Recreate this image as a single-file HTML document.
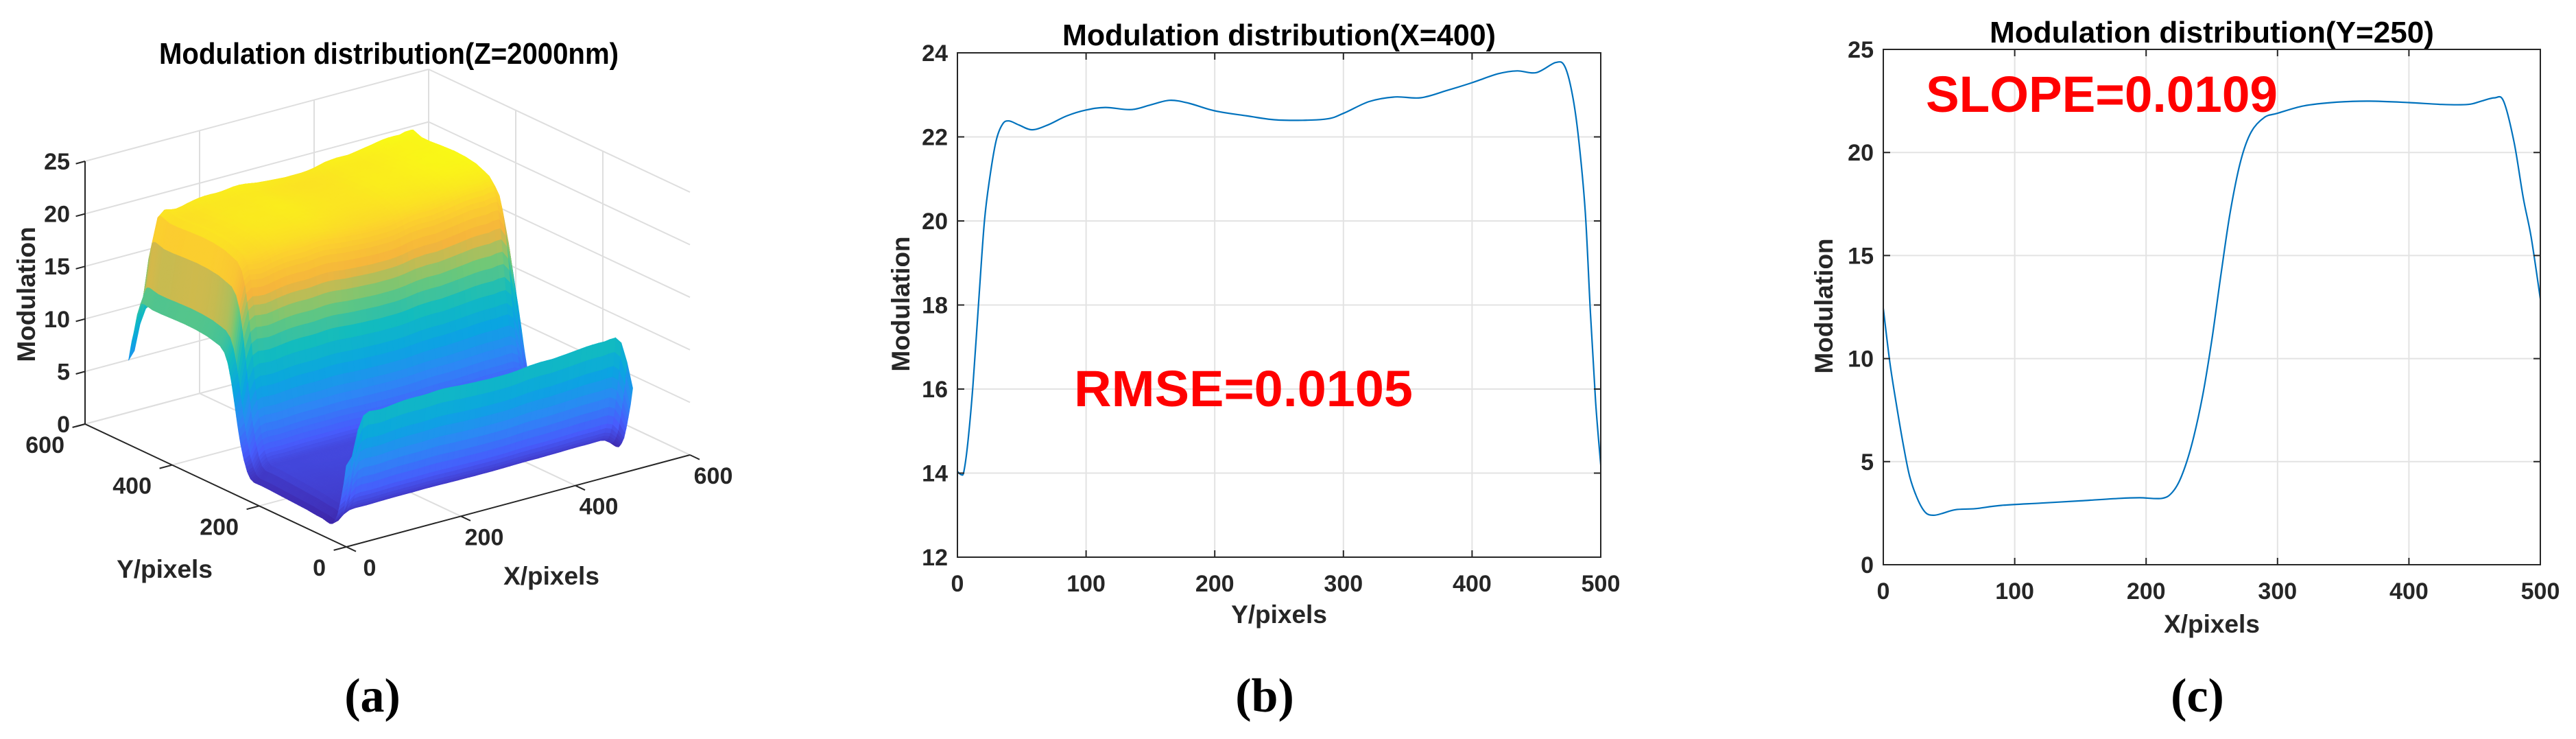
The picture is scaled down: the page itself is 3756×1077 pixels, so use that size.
<!DOCTYPE html>
<html><head><meta charset="utf-8">
<style>
html,body{margin:0;padding:0;background:#fff;}
svg{display:block;}
</style></head>
<body>
<svg id="fig" xmlns="http://www.w3.org/2000/svg" width="3756" height="1077" viewBox="0 0 3756 1077" font-family="Liberation Sans, Arial, sans-serif">
<rect x="0" y="0" width="3756" height="1077" fill="#fff"/>
<g id="panelA"></g>
<g id="panelB"></g>
<g id="panelC"></g>
<text x="543" y="1037" text-anchor="middle" style="font-family:'Liberation Serif',serif" font-size="70" font-weight="bold" fill="#000">(a)</text>
<text x="1844" y="1037" text-anchor="middle" style="font-family:'Liberation Serif',serif" font-size="70" font-weight="bold" fill="#000">(b)</text>
<text x="3204" y="1037" text-anchor="middle" style="font-family:'Liberation Serif',serif" font-size="70" font-weight="bold" fill="#000">(c)</text>
</svg>
<script>
// ---- data: profile along Y at X=400 (panel b) ----
var bPos = [0,3,5,8,12,17,21,25,30,35,40,48,58,70,85,100,115,135,150,165,180,200,225,250,285,300,320,340,360,380,400,420,435,450,465,472,478,483,488,492,496,500];
var bVal = [14.04,13.96,14.04,14.7,16.06,18.3,20.0,21.0,21.9,22.3,22.38,22.28,22.17,22.28,22.5,22.64,22.7,22.65,22.76,22.87,22.8,22.62,22.5,22.4,22.42,22.56,22.84,22.95,22.93,23.1,23.29,23.5,23.57,23.53,23.77,23.68,23.0,21.9,20.2,17.8,15.7,14.2];
// ---- data: profile along X at Y=250 (panel c) ----
var cPos = [0,5,10,15,20,26,32,38,45,55,70,90,120,150,180,195,212,220,227,235,243,250,257,264,272,280,290,300,320,345,370,400,425,445,455,465,472,480,487,493,500];
var cVal = [12.43,9.8,7.75,5.9,4.3,3.2,2.54,2.4,2.49,2.67,2.72,2.88,2.99,3.1,3.22,3.25,3.22,3.52,4.3,5.9,8.2,10.9,14.1,17.1,19.6,21.0,21.7,21.9,22.26,22.44,22.49,22.42,22.33,22.33,22.49,22.65,22.49,20.5,17.8,15.9,12.9];
var xTicks2D = [0,100,200,300,400,500];
var bYTicks = [12,14,16,18,20,22,24];
var cYTicks = [0,5,10,15,20,25];
var zTicks3D = [0,5,10,15,20,25];
var xyTicks3D = [0,200,400,600];

var NS = "http://www.w3.org/2000/svg";
function mk(tag, attrs, parent){ var e=document.createElementNS(NS,tag); for(var k in attrs) e.setAttribute(k,attrs[k]); if(parent) parent.appendChild(e); return e; }
function interp(pos, val, x){
  if(x<=pos[0]) return val[0];
  for(var i=1;i<pos.length;i++){ if(x<=pos[i]){ var t=(x-pos[i-1])/(pos[i]-pos[i-1]); return val[i-1]+t*(val[i]-val[i-1]); } }
  return val[val.length-1];
}
function smoothPath(pts){
  var d="M"+pts[0][0].toFixed(1)+","+pts[0][1].toFixed(1);
  for(var i=0;i<pts.length-1;i++){
    var p0=pts[Math.max(0,i-1)],p1=pts[i],p2=pts[i+1],p3=pts[Math.min(pts.length-1,i+2)];
    var c1x=p1[0]+(p2[0]-p0[0])/6,c1y=p1[1]+(p2[1]-p0[1])/6,c2x=p2[0]-(p3[0]-p1[0])/6,c2y=p2[1]-(p3[1]-p1[1])/6;
    d+="C"+c1x.toFixed(1)+","+c1y.toFixed(1)+" "+c2x.toFixed(1)+","+c2y.toFixed(1)+" "+p2[0].toFixed(1)+","+p2[1].toFixed(1);
  }
  return d;
}

// ---------- 2D panel ----------
function panel2D(g, cfg){
  var L=cfg.l,R=cfg.r,T=cfg.t,B=cfg.b;
  function sx(v){return L+(v-cfg.xmin)/(cfg.xmax-cfg.xmin)*(R-L);}
  function sy(v){return B-(v-cfg.ymin)/(cfg.ymax-cfg.ymin)*(B-T);}
  xTicks2D.forEach(function(t){
    var ln=mk("line",{x1:sx(t),x2:sx(t),y1:T,y2:B,stroke:"#e3e3e3","stroke-width":2},g);
    
    
  });
  cfg.yticks.forEach(function(t){
    var ln=mk("line",{x1:L,x2:R,y1:sy(t),y2:sy(t),stroke:"#e3e3e3","stroke-width":2},g);
    
    
  });
  var pts=cfg.pos.map(function(p,i){return [sx(p),sy(cfg.val[i])];});
  var path=mk("path",{d:smoothPath(pts),fill:"none",stroke:"#0072BD","stroke-width":2.2},g);
  
  
  var box=mk("rect",{x:L,y:T,width:R-L,height:B-T,fill:"none",stroke:"#262626","stroke-width":2},g);
  
  
  xTicks2D.forEach(function(t){
    var tk=mk("path",{d:"M"+sx(t)+","+B+"v-10M"+sx(t)+","+T+"v10",stroke:"#262626","stroke-width":2},g);
    
    
    var tx=mk("text",{x:sx(t),y:B+50,"text-anchor":"middle","font-size":34,"font-weight":"bold",fill:"#262626"},g);
    tx.textContent=t;
    
    
  });
  cfg.yticks.forEach(function(t){
    var tk=mk("path",{d:"M"+L+","+sy(t)+"h10M"+R+","+sy(t)+"h-10",stroke:"#262626","stroke-width":2},g);
    
    
    var tx=mk("text",{x:L-14,y:sy(t)+12,"text-anchor":"end","font-size":34,"font-weight":"bold",fill:"#262626"},g);
    tx.textContent=t;
    
    
  });
  var ti=mk("text",{x:(L+R)/2,y:cfg.titleY,"text-anchor":"middle","font-size":44,"font-weight":"bold",fill:"#000",textLength:cfg.titleW,lengthAdjust:"spacingAndGlyphs"},g);
  ti.textContent=cfg.title;
  
  
  var xl=mk("text",{x:cfg.xlx,y:cfg.xly,"text-anchor":"middle","font-size":37,"font-weight":"bold",fill:"#262626"},g);
  xl.textContent=cfg.xlabel;
  
  
  var yl=mk("text",{x:0,y:0,"text-anchor":"middle","font-size":37,"font-weight":"bold",fill:"#262626",transform:"translate("+cfg.ylx+","+cfg.yly+") rotate(-90)"},g);
  yl.textContent="Modulation";
  
  
  var an=mk("text",{x:cfg.ax,y:cfg.ay,"font-size":74,"font-weight":"bold",fill:"#ff0000",textLength:cfg.aw,lengthAdjust:"spacingAndGlyphs"},g);
  an.textContent=cfg.annot;
  
  
}
panel2D(document.getElementById("panelB"),{l:1396,r:2334,t:77,b:812,xmin:0,xmax:500,ymin:12,ymax:24,yticks:bYTicks,pos:bPos,val:bVal,
  title:"Modulation distribution(X=400)",titleY:66,titleW:632,xlabel:"Y/pixels",xlx:1865,xly:908,ylx:1326,yly:443,annot:"RMSE=0.0105",ax:1566,ay:592,aw:494});
panel2D(document.getElementById("panelC"),{l:2746,r:3704,t:72,b:823,xmin:0,xmax:500,ymin:0,ymax:25,yticks:cYTicks,pos:cPos,val:cVal,
  title:"Modulation distribution(Y=250)",titleY:62,titleW:648,xlabel:"X/pixels",xlx:3225,xly:922,ylx:2672,yly:446,annot:"SLOPE=0.0109",ax:2808,ay:163,aw:513});

// ---------- 3D panel ----------
(function(){
  var g=document.getElementById("panelA");
  function P(X,Y,Z){ return [505+X*501/600-Y*381/600, 797-X*134/600-Y*179/600-Z*15.32]; }
  function pl(a,b,col,w,name){ var p=P.apply(null,a),q=P.apply(null,b);
    var ln=mk("line",{x1:p[0].toFixed(1),y1:p[1].toFixed(1),x2:q[0].toFixed(1),y2:q[1].toFixed(1),stroke:col,"stroke-width":w},g);
    
    
  }
  var gc="#dedede";
  zTicks3D.forEach(function(z){ pl([0,600,z],[600,600,z],gc,2,'z-gridline'); pl([600,600,z],[600,0,z],gc,2,'z-gridline'); });
  [200,400,600].forEach(function(x){ pl([x,0,0],[x,600,0],gc,2,'x-gridline'); pl([x,600,0],[x,600,25],gc,2,'x-gridline'); });
  [200,400,600].forEach(function(y){ pl([0,y,0],[600,y,0],gc,2,'y-gridline'); pl([600,y,0],[600,y,25],gc,2,'y-gridline'); });
  // surface: X along panel-b profile, Y along panel-c profile
  var NX=50, sX=10, NY=200, sY=2.5, M=[];
  for(var i=0;i<=NX;i++){ M[i]=[]; for(var j=0;j<=NY;j++){ M[i][j]=interp(cPos,cVal,j*sY)*interp(bPos,bVal,i*sX)/22.6; } }
  var zmin=1e9,zmax=-1e9;
  for(i=0;i<=NX;i++)for(j=0;j<=NY;j++){zmin=Math.min(zmin,M[i][j]);zmax=Math.max(zmax,M[i][j]);}
  var cmap=[[62,38,168],[71,92,252],[45,135,245],[10,165,225],[18,188,190],[110,200,120],[245,180,60],[252,210,45],[249,251,21]];
  function col(t){ t=Math.max(0,Math.min(1,t))*(cmap.length-1); var k=Math.min(cmap.length-2,Math.floor(t)),f=t-k;
    var c=[0,1,2].map(function(q){return Math.round(cmap[k][q]+f*(cmap[k+1][q]-cmap[k][q]));}); return "rgb("+c.join(",")+")"; }
  var cells=[];
  for(i=0;i<NX;i++)for(j=0;j<NY;j++){ cells.push([i,j,(i+0.5)*sX*0.223+(j+0.5)*sY*0.298]); }
  cells.sort(function(a,b){return b[2]-a[2];});
  var sg=mk("g",{},g);
  
  
  cells.forEach(function(c){
    var i=c[0],j=c[1];
    var pts=[[i,j],[i+1,j],[i+1,j+1],[i,j+1]].map(function(q){return P(q[0]*sX,q[1]*sY,M[q[0]][q[1]]);});
    var z=(M[i][j]+M[i+1][j]+M[i+1][j+1]+M[i][j+1])/4, cc=col((z-zmin)/(zmax-zmin));
    var pg=mk("polygon",{points:pts.map(function(p){return p[0].toFixed(1)+","+p[1].toFixed(1);}).join(" "),fill:cc,stroke:cc,"stroke-width":0.8},sg);
    
    
  });
  var ac="#262626";
  pl([0,600,0],[0,600,25],ac,2,'z-axis-line');
  pl([0,600,0],[0,0,0],ac,2,'y-axis-line');
  pl([0,0,0],[600,0,0],ac,2,'x-axis-line');
  zTicks3D.forEach(function(z){ pl([0,600,z],[-16,600,z],ac,2,'z-tick');
    var p=P(0,600,z); var t=mk("text",{x:p[0]-22,y:p[1]+12,"text-anchor":"end","font-size":34,"font-weight":"bold",fill:"#262626"},g);
    t.textContent=z;
    
    
  });
  xyTicks3D.forEach(function(v){
    pl([0,v,0],[-22,v,0],ac,2,'y-tick');
    var p=P(0,v,0); var t=mk("text",{x:p[0]-30,y:p[1]+42,"text-anchor":"end","font-size":34,"font-weight":"bold",fill:"#262626"},g);
    t.textContent=v;
    
    
    pl([v,0,0],[v,-22,0],ac,2,'x-tick');
    var q=P(v,0,0); var u=mk("text",{x:q[0]+34,y:q[1]+42,"text-anchor":"middle","font-size":34,"font-weight":"bold",fill:"#262626"},g);
    u.textContent=v;
    
    
  });
  var ti=mk("text",{x:567,y:93,"text-anchor":"middle","font-size":44,"font-weight":"bold",fill:"#000",textLength:670,lengthAdjust:"spacingAndGlyphs"},g);
  ti.textContent="Modulation distribution(Z=2000nm)";
  
  
  var yl=mk("text",{x:240,y:842,"text-anchor":"middle","font-size":37,"font-weight":"bold",fill:"#262626"},g);
  yl.textContent="Y/pixels";
  
  
  var xl=mk("text",{x:804,y:852,"text-anchor":"middle","font-size":37,"font-weight":"bold",fill:"#262626"},g);
  xl.textContent="X/pixels";
  
  
  var zl=mk("text",{x:0,y:0,"text-anchor":"middle","font-size":37,"font-weight":"bold",fill:"#262626",transform:"translate(51,429) rotate(-90)"},g);
  zl.textContent="Modulation";
  
  
})();
</script>
</body></html>
